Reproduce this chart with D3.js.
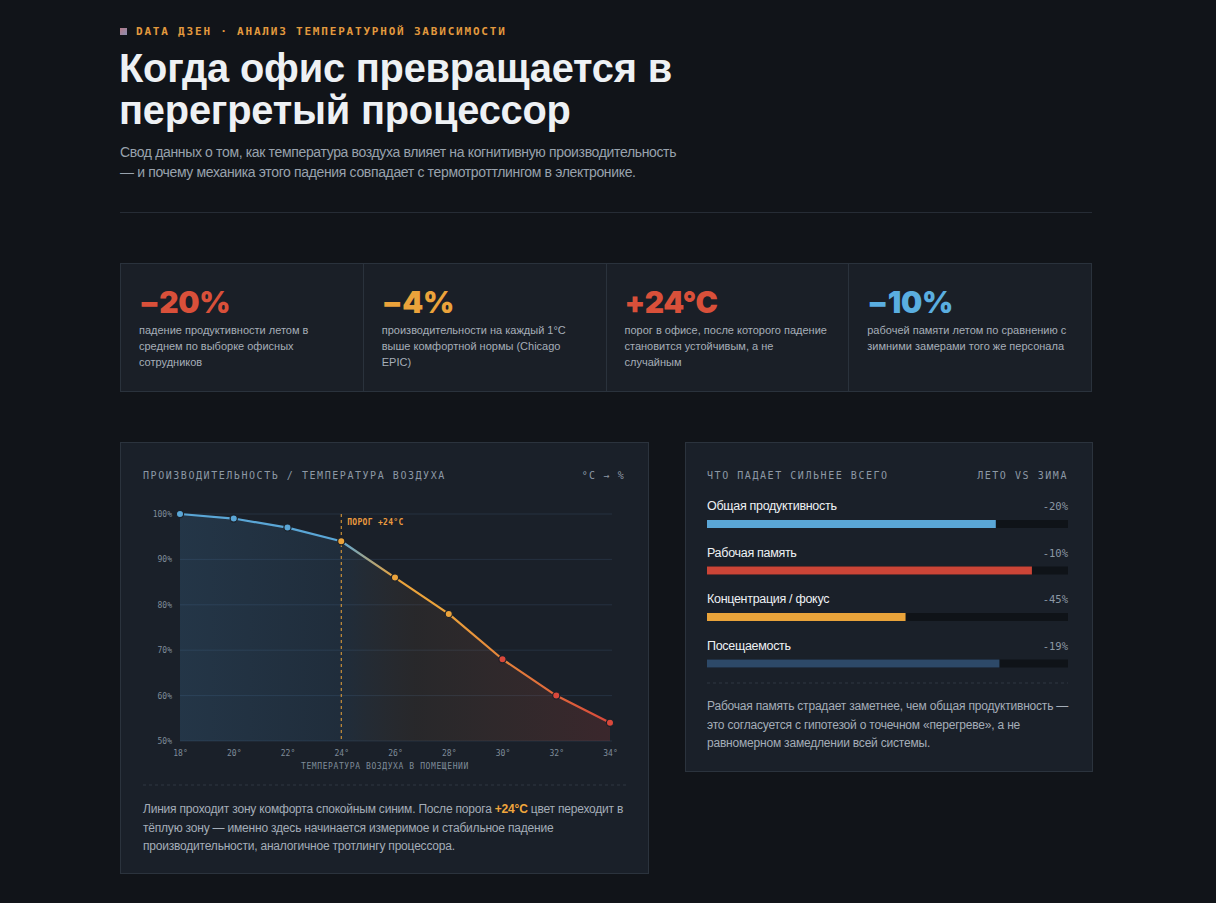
<!DOCTYPE html>
<html><head><meta charset="utf-8">
<script src="https://cdn.jsdelivr.net/npm/d3@7/dist/d3.min.js"></script>
<style>
html,body{margin:0;padding:0;background:#111419;width:1216px;height:903px;overflow:hidden;}
body{position:relative;font-family:"Liberation Sans",Arial,sans-serif;}
.abs{position:absolute;}
.mono{font-family:"DejaVu Sans Mono","Liberation Mono",monospace;}
#eyebrow{left:136px;top:25px;font-size:11px;font-weight:bold;letter-spacing:1.8px;color:#e39a3e;}
#sq{left:120px;top:28px;width:7px;height:7px;background:linear-gradient(135deg,#b57a88,#8a8fb0);}
#title{left:119px;top:47px;font-size:39.8px;line-height:42px;font-weight:bold;color:#eef1f4;letter-spacing:-0.2px;}
#sub{left:120px;top:143px;font-size:14px;line-height:19.5px;color:#98a2ad;letter-spacing:-0.35px;}
#rule{left:120px;top:212px;width:972px;height:1px;background:#262c35;}
#stats{left:120px;top:263px;width:970px;height:127px;border:1px solid #2a323c;background:#1a1f27;display:flex;}
.cell{flex:1;border-left:1px solid #2a323c;position:relative;}
.cell:first-child{border-left:none;}
.big{position:absolute;left:18px;top:20px;font-family:Inter,"Liberation Sans",sans-serif;font-weight:900;font-size:30px;letter-spacing:-0.3px;}
.desc{position:absolute;left:18px;top:58px;font-size:11px;line-height:16.2px;color:#a6aeb8;}
.panel{background:#1a2029;border:1px solid #2b333d;}
#left{left:120px;top:442px;width:527px;height:430px;}
#right{left:685px;top:442px;width:406px;height:328px;}
.note{font-size:12px;line-height:18.5px;color:#a4adb8;letter-spacing:-0.2px;}
</style></head>
<body>
<div id="sq" class="abs"></div>
<div id="eyebrow" class="abs mono">DATA ДЗЕН · АНАЛИЗ ТЕМПЕРАТУРНОЙ ЗАВИСИМОСТИ</div>
<div id="title" class="abs">Когда офис превращается в<br>перегретый процессор</div>
<div id="sub" class="abs">Свод данных о том, как температура воздуха влияет на когнитивную производительность<br>— и почему механика этого падения совпадает с термотроттлингом в электронике.</div>
<div id="rule" class="abs"></div>
<div id="stats" class="abs"></div>
<div id="left" class="abs panel"></div>
<div id="right" class="abs panel"></div>
<svg id="chart" class="abs" style="left:120px;top:442px" width="528" height="431"></svg>
<svg id="bars" class="abs" style="left:685px;top:442px" width="408" height="330"></svg>
<div class="abs note" style="left:143px;top:800px;width:490px">Линия проходит зону комфорта спокойным синим. После порога <b style="color:#f0a63c">+24°C</b> цвет переходит в<br>тёплую зону — именно здесь начинается измеримое и стабильное падение<br>производительности, аналогичное тротлингу процессора.</div>
<div class="abs note" style="left:707px;top:697px;width:370px">Рабочая память страдает заметнее, чем общая продуктивность —<br>это согласуется с гипотезой о точечном «перегреве», а не<br>равномерном замедлении всей системы.</div>
<script>
// ---- data ----
const statValues = ["−20%", "−4%", "+24°C", "−10%"];
const statColors = ["#d9503a", "#eba33b", "#d9503a", "#5aaee0"];
const statTexts = [
  ["падение продуктивности летом в", "среднем по выборке офисных", "сотрудников"],
  ["производительности на каждый 1°C", "выше комфортной нормы (Chicago", "EPIC)"],
  ["порог в офисе, после которого падение", "становится устойчивым, а не", "случайным"],
  ["рабочей памяти летом по сравнению с", "зимними замерами того же персонала"]
];
const temps = [18, 20, 22, 24, 26, 28, 30, 32, 34];
const perf = [100, 99, 97, 94, 86, 78, 68, 60, 54];
const yTicks = [50, 60, 70, 80, 90, 100];
const threshold = 24;
const metrics = ["Общая продуктивность", "Рабочая память", "Концентрация / фокус", "Посещаемость"];
const drops = [-20, -10, -45, -19];
const barColors = ["#5aa6d6", "#cc4537", "#e9a33a", "#2d4968"];

// ---- stats ----
const cells = d3.select("#stats").selectAll(".cell").data(statValues).join("div").attr("class","cell");
cells.append("div").attr("class","big").style("color",(d,i)=>statColors[i]).text(d=>d);
cells.append("div").attr("class","desc").html((d,i)=>statTexts[i].join("<br>"));

// ---- line chart ----
const svg = d3.select("#chart");
const mono = '"DejaVu Sans Mono","Liberation Mono",monospace';
svg.append("text").attr("x",23).attr("y",37).attr("font-family",mono).attr("font-size",10)
  .attr("letter-spacing",1.55).attr("fill","#8c98a5").text("ПРОИЗВОДИТЕЛЬНОСТЬ / ТЕМПЕРАТУРА ВОЗДУХА");
svg.append("text").attr("x",505).attr("y",37).attr("text-anchor","end").attr("font-family",mono).attr("font-size",10)
  .attr("letter-spacing",1.2).attr("fill","#8c98a5").text("°C → %");

const x = d3.scaleLinear().domain([18,34]).range([60,490]);
const y = d3.scaleLinear().domain([50,100]).range([299,72]);
const defs = svg.append("defs");
const lg = defs.append("linearGradient").attr("id","lineG").attr("gradientUnits","userSpaceOnUse")
  .attr("x1",x(18)).attr("x2",x(34)).attr("y1",0).attr("y2",0);
[[0,"#5aa6d6"],[0.375,"#5aa6d6"],[0.5,"#eba33b"],[0.62,"#eba33b"],[1,"#d9483b"]]
  .forEach(s=>lg.append("stop").attr("offset",s[0]).attr("stop-color",s[1]));
const ag = defs.append("linearGradient").attr("id","areaG").attr("gradientUnits","userSpaceOnUse")
  .attr("x1",x(18)).attr("x2",x(34)).attr("y1",0).attr("y2",0);
[[0,"#4a8cc0",0.2],[0.375,"#4a8cc0",0.12],[0.55,"#c8803a",0.08],[1,"#d9483b",0.17]]
  .forEach(s=>ag.append("stop").attr("offset",s[0]).attr("stop-color",s[1]).attr("stop-opacity",s[2]));

// grid
svg.append("g").selectAll("line").data(yTicks).join("line")
  .attr("x1",x(18)).attr("x2",x(34)+2).attr("y1",d=>y(d)).attr("y2",d=>y(d))
  .attr("stroke","#253140").attr("stroke-width",1);
// y axis labels
const yAxis = d3.axisLeft(y).tickValues(yTicks).tickFormat(d=>d+"%").tickSize(0).tickPadding(8);
const ya = svg.append("g").attr("transform",`translate(${x(18)},0)`).call(yAxis);
ya.select(".domain").remove();
ya.selectAll("text").attr("font-family",mono).attr("font-size",8).attr("fill","#7f8c99");
// x axis labels
const xAxis = d3.axisBottom(x).tickValues(temps).tickFormat(d=>d+"°").tickSize(0).tickPadding(9);
const xa = svg.append("g").attr("transform",`translate(0,${y(50)})`).call(xAxis);
xa.select(".domain").remove();
xa.selectAll("text").attr("font-family",mono).attr("font-size",8).attr("fill","#7f8c99");
svg.append("text").attr("x",265).attr("y",327).attr("text-anchor","middle").attr("font-family",mono)
  .attr("font-size",8).attr("letter-spacing",0.6).attr("fill","#7f8c99").text("ТЕМПЕРАТУРА ВОЗДУХА В ПОМЕЩЕНИИ");

const pts = temps.map((t,i)=>[t,perf[i]]);
svg.append("path").datum(pts).attr("fill","url(#areaG)")
  .attr("d",d3.area().x(d=>x(d[0])).y0(y(50)).y1(d=>y(d[1])));
// threshold
svg.append("line").attr("x1",x(threshold)).attr("x2",x(threshold)).attr("y1",y(100)).attr("y2",y(50))
  .attr("stroke","#e9a33a").attr("stroke-width",1).attr("stroke-dasharray","3,3");
svg.append("text").attr("x",x(threshold)+6).attr("y",y(100)+11).attr("font-family",mono).attr("font-size",8)
  .attr("font-weight","bold").attr("fill","#eb9a3e").attr("letter-spacing",0.3).text("ПОРОГ +24°C");
svg.append("path").datum(pts).attr("fill","none").attr("stroke","url(#lineG)").attr("stroke-width",2.2)
  .attr("stroke-linejoin","round")
  .attr("d",d3.line().x(d=>x(d[0])).y(d=>y(d[1])));
svg.append("g").selectAll("circle").data(pts).join("circle")
  .attr("cx",d=>x(d[0])).attr("cy",d=>y(d[1])).attr("r",3.6)
  .attr("fill",d=>d[0]<threshold?"#5aa6d6":(d[0]<30?"#eba33b":"#d9483b"))
  .attr("stroke","#1a2029").attr("stroke-width",1.2);
svg.append("line").attr("x1",23).attr("x2",506).attr("y1",343).attr("y2",343)
  .attr("stroke","#2e3742").attr("stroke-dasharray","3,3");

// ---- bars ----
const b = d3.select("#bars");
b.append("text").attr("x",22).attr("y",37).attr("font-family",mono).attr("font-size",10)
  .attr("letter-spacing",1.55).attr("fill","#8c98a5").text("ЧТО ПАДАЕТ СИЛЬНЕЕ ВСЕГО");
b.append("text").attr("x",383).attr("y",37).attr("text-anchor","end").attr("font-family",mono).attr("font-size",10)
  .attr("letter-spacing",1.55).attr("fill","#8c98a5").text("ЛЕТО VS ЗИМА");
const bx = d3.scaleLinear().domain([0,100]).range([0,361]);
const rowY = d3.scalePoint().domain(metrics).range([0,139.5]);
const rows = b.append("g").selectAll("g").data(metrics).join("g")
  .attr("transform",d=>`translate(22,${68+rowY(d)})`);
rows.append("text").attr("x",0).attr("y",0).attr("font-size",12.5).attr("fill","#eef1f4")
  .attr("letter-spacing",-0.3).text(d=>d);
rows.append("text").attr("x",361).attr("y",0).attr("text-anchor","end").attr("font-family",mono)
  .attr("font-size",10.5).attr("fill","#8c98a5").text((d,i)=>drops[i]+"%");
rows.append("rect").attr("x",0).attr("y",10).attr("width",bx(100)).attr("height",8).attr("fill","#0f1318");
rows.append("rect").attr("x",0).attr("y",10).attr("width",(d,i)=>bx(100+drops[i])).attr("height",8)
  .attr("fill",(d,i)=>barColors[i]);
b.append("line").attr("x1",22).attr("x2",383).attr("y1",241).attr("y2",241)
  .attr("stroke","#2e3742").attr("stroke-dasharray","3,3");
</script>
</body></html>
